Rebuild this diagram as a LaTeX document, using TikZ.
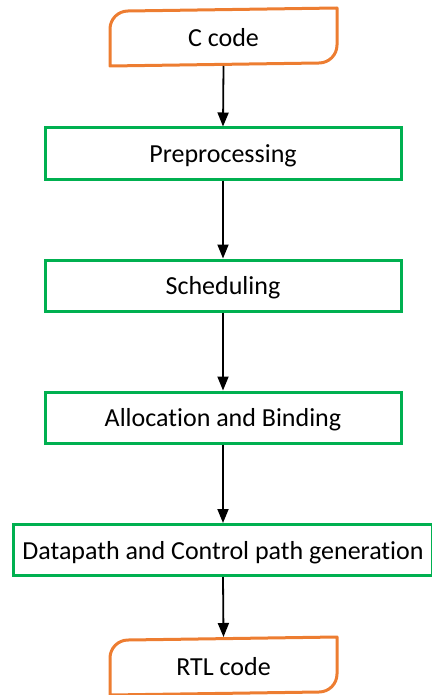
\documentclass[tikz,border=0pt]{standalone}
\usepackage{fontspec}
\setmainfont{Carlito}[Ligatures={NoCommon}]
\usetikzlibrary{arrows.meta}
\definecolor{stepgreen}{HTML}{00B050}
\definecolor{termorange}{HTML}{ED7D31}
\begin{document}
\begin{tikzpicture}[x=1pt,y=-1pt,
  label font/.style={font=\fontsize{26}{30}\selectfont,
    text height=20pt, text depth=1.6pt},
  stepbox/.style={draw=stepgreen, line width=3pt, minimum width=356pt,
    minimum height=51pt, inner sep=0pt, label font},
  terminal/.style={line width=3pt, minimum width=224pt, minimum height=55pt,
    inner sep=0pt, label font},
  termline/.style={draw=termorange, line width=3pt, line join=round},
  flow/.style={-{Triangle[length=14pt,width=11pt]}, line width=1.8pt}]
\useasboundingbox (0,0) rectangle (431,695);

% start and end terminals: rounded top-left and bottom-right corners
\node[terminal] (ccode) at (223.5,37) {C code};
\node[terminal] (rtl) at (223.5,666) {RTL code};
\foreach \t in {ccode,rtl}{
  \draw[termline] (\t.south west) -- ++(0,-37) arc(180:270:18)
    -- (\t.north east) -- ++(0,37) arc(0:90:18) -- cycle;
}

% processing steps
\node[stepbox] (pre) at (223,153.5) {Preprocessing};
\node[stepbox] (sched) at (223,285.5) {Scheduling};
\node[stepbox] (alloc) at (223,417.5) {Allocation and Binding};
\node[stepbox, minimum width=419pt] (dp) at (223,550) {Datapath and Control path generation};

% connectors
\draw[flow] (ccode.south) -- (pre.north);
\draw[flow] (pre.south) -- (sched.north);
\draw[flow] (sched.south) -- (alloc.north);
\draw[flow] (alloc.south) -- (dp.north);
\draw[flow] (dp.south) -- (rtl.north);
\end{tikzpicture}
\end{document}
